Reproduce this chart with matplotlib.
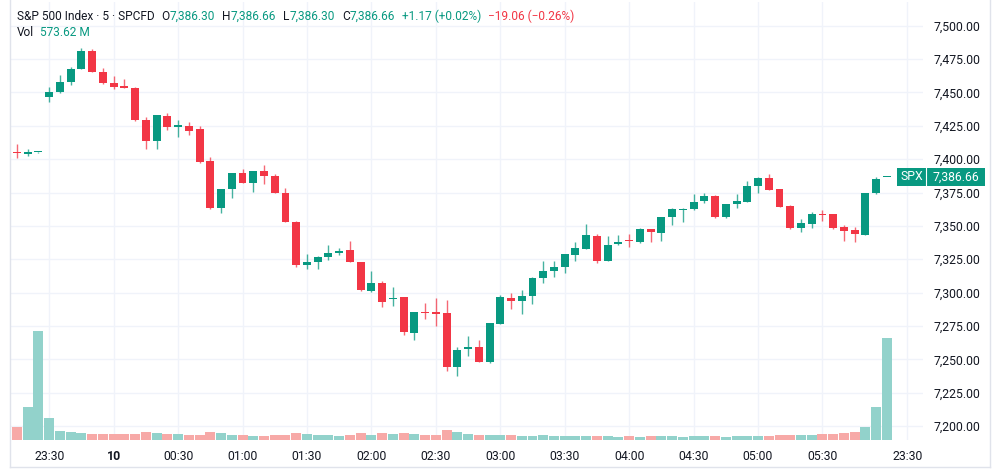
import matplotlib.pyplot as plt
from matplotlib.patches import Rectangle
from matplotlib.lines import Line2D
import matplotlib.transforms as mtransforms

plt.rcParams['font.family'] = ['Roboto', 'DejaVu Sans']

# 5-minute candles, 23:15 .. 06:00
opens = [7405.5, 7403.6, 7405.2, 7446.3, 7450.5, 7457.6, 7467.5, 7481.3, 7465.5, 7457.3,
         7455.0, 7453.6, 7429.1, 7413.4, 7432.6, 7424.3, 7424.8, 7422.3, 7398.9, 7363.7,
         7377.4, 7389.8, 7381.9, 7391.1, 7387.4, 7374.4, 7353.1, 7320.7, 7323.1, 7326.7,
         7329.7, 7331.9, 7323.1, 7301.2, 7307.0, 7295.3, 7296.7, 7270.0, 7285.6, 7285.2,
         7284.5, 7244.0, 7257.5, 7259.4, 7247.7, 7276.2, 7296.1, 7293.9, 7297.5, 7311.3,
         7316.2, 7319.2, 7328.2, 7332.8, 7342.3, 7323.6, 7336.4, 7339.0, 7337.6, 7347.6,
         7344.4, 7356.4, 7362.0, 7362.4, 7368.4, 7372.4, 7356.4, 7366.4, 7368.1, 7380.1,
         7385.6, 7377.4, 7365.2, 7348.4, 7351.4, 7358.4, 7358.7, 7348.8, 7346.7, 7343.1,
         7374.4, 7386.30]
highs = [7411.3, 7407.6, 7405.6, 7453.8, 7463.0, 7468.8, 7483.0, 7482.3, 7468.0, 7462.5,
         7459.8, 7453.9, 7431.4, 7432.9, 7434.8, 7429.3, 7427.8, 7424.6, 7401.8, 7377.4,
         7389.8, 7392.4, 7391.1, 7395.9, 7388.9, 7378.1, 7353.3, 7328.7, 7327.5, 7335.6,
         7333.2, 7338.9, 7323.3, 7316.2, 7308.6, 7304.3, 7297.0, 7285.2, 7292.0, 7295.8,
         7294.4, 7259.4, 7267.4, 7264.5, 7277.0, 7298.2, 7300.0, 7302.0, 7311.6, 7324.0,
         7323.8, 7328.7, 7337.9, 7351.4, 7343.9, 7342.3, 7343.1, 7343.9, 7348.2, 7348.0,
         7356.9, 7363.1, 7363.1, 7373.7, 7374.4, 7372.8, 7366.6, 7373.7, 7383.9, 7386.4,
         7388.9, 7377.8, 7365.6, 7355.0, 7360.7, 7361.9, 7359.0, 7350.6, 7349.4, 7374.6,
         7386.8, 7386.66]
lows = [7401.1, 7402.3, 7405.0, 7443.0, 7449.3, 7455.6, 7467.5, 7465.3, 7456.3, 7452.3,
        7453.0, 7428.8, 7407.4, 7407.8, 7421.8, 7416.8, 7418.0, 7397.3, 7363.0, 7360.0,
        7371.1, 7382.1, 7375.1, 7381.1, 7374.3, 7352.9, 7319.4, 7317.4, 7317.6, 7324.4,
        7328.0, 7322.9, 7301.4, 7300.5, 7289.0, 7289.6, 7268.2, 7264.5, 7280.2, 7274.9,
        7240.9, 7237.5, 7252.5, 7247.7, 7247.0, 7276.2, 7287.5, 7284.0, 7291.5, 7307.4,
        7311.5, 7314.4, 7323.4, 7332.4, 7322.4, 7323.6, 7335.6, 7334.0, 7337.0, 7338.2,
        7338.9, 7350.6, 7352.7, 7362.0, 7366.9, 7356.0, 7356.0, 7363.6, 7368.1, 7374.4,
        7376.9, 7364.0, 7348.0, 7345.1, 7348.2, 7354.0, 7348.0, 7338.6, 7338.0, 7342.8,
        7374.0, 7386.30]
closes = [7404.5, 7405.6, 7405.4, 7450.3, 7457.6, 7467.8, 7481.3, 7465.3, 7456.8, 7453.8,
          7453.3, 7429.1, 7413.4, 7432.9, 7424.3, 7425.3, 7421.3, 7398.0, 7363.2, 7377.4,
          7389.8, 7382.1, 7391.1, 7387.6, 7374.3, 7352.9, 7320.7, 7322.9, 7326.9, 7329.7,
          7331.2, 7322.9, 7301.9, 7307.0, 7293.2, 7296.1, 7270.3, 7285.2, 7285.0, 7284.0,
          7244.0, 7256.9, 7259.5, 7247.7, 7277.0, 7296.5, 7293.9, 7297.5, 7311.3, 7316.2,
          7319.5, 7328.7, 7333.7, 7343.0, 7323.6, 7335.6, 7338.2, 7338.6, 7347.6, 7345.1,
          7356.9, 7362.4, 7363.0, 7368.2, 7372.4, 7356.4, 7366.1, 7368.9, 7380.1, 7385.6,
          7376.9, 7364.4, 7348.4, 7352.0, 7358.7, 7358.0, 7348.2, 7346.3, 7343.9, 7374.4,
          7385.49, 7386.66]
# volume in millions
volumes = [71, 187, 611, 124, 51, 43, 39, 36, 36, 36,
           36, 36, 47, 37, 34, 34, 28, 28, 47, 37,
           28, 30, 24, 24, 28, 30, 41, 36, 30, 28,
           21, 28, 41, 30, 39, 34, 41, 36, 26, 30,
           58, 43, 36, 30, 30, 28, 28, 24, 24, 30,
           21, 21, 21, 24, 24, 21, 17, 24, 17, 21,
           21, 21, 17, 24, 21, 21, 17, 21, 24, 24,
           24, 28, 30, 30, 28, 34, 34, 39, 43, 75,
           187, 574]

time_ticks = [3, 9, 15, 21, 27, 33, 39, 45, 51, 57, 63, 69, 75, 82.9]
time_labels = ['23:30', '10', '00:30', '01:00', '01:30', '02:00', '02:30',
               '03:00', '03:30', '04:00', '04:30', '05:00', '05:30', '23:30']
price_ticks = list(range(7200, 7501, 25))

GREEN = '#089981'
RED = '#F23645'
VGREEN = '#92D2CB'
VRED = '#F7A9A7'
TEXT = '#131722'
GRID = '#F0F3FA'

PMIN, PMAX = 7189.5, 7517.8
VMAX = 2463

fig = plt.figure(figsize=(10, 4.7), dpi=100)
rect = [0.010, 0.0638, 0.913, 0.9319]
axv = fig.add_axes(rect)
ax = fig.add_axes(rect, sharex=axv)
ax.patch.set_visible(False)

idx = list(range(len(opens)))
up = [c >= o for o, c in zip(opens, closes)]

# volume pane (background) + grid
axv.bar(idx, volumes, width=0.93, color=[VGREEN if u else VRED for u in up], linewidth=0)
axv.set_ylim(0, VMAX)
axv.set_yticks([(p - PMIN) / (PMAX - PMIN) * VMAX for p in price_ticks])
axv.grid(True, color=GRID, linewidth=1)
axv.set_axisbelow(True)
axv.tick_params(labelleft=False, labelbottom=False, length=0)
for s in axv.spines.values():
    s.set_visible(False)

# candles
colors = [GREEN if u else RED for u in up]
ax.vlines(idx, lows, highs, colors=colors, linewidth=1.0, alpha=0.75)
bottoms = [min(o, c) for o, c in zip(opens, closes)]
heights = [max(abs(c - o), 0.8) for o, c in zip(opens, closes)]
ax.bar(idx, heights, bottom=bottoms, width=0.74, color=colors, linewidth=0)

ax.set_xlim(-0.65, 84.36)
ax.set_ylim(PMIN, PMAX)
ax.yaxis.tick_right()
ax.set_yticks(price_ticks, [f'{p:,.2f}' for p in price_ticks])
ax.set_xticks(time_ticks, time_labels)
ax.tick_params(axis='y', length=0, pad=7.5, labelsize=8.8, labelcolor=TEXT)
ax.tick_params(axis='x', length=0, pad=7, labelsize=8.8, labelcolor=TEXT)
ax.get_xticklabels()[1].set_fontweight('bold')
for s in ax.spines.values():
    s.set_visible(False)

# last price label
last = closes[-1]
tr = mtransforms.blended_transform_factory(ax.transAxes, ax.transData)
box_h = 12.8
ax.add_patch(Rectangle((0.9715, last - box_h / 2), 1.0679 - 0.9715, box_h, transform=tr,
                       facecolor=GREEN, edgecolor='none', clip_on=False, zorder=5))
ax.add_line(Line2D([1.0033, 1.0033], [last - box_h / 2, last + box_h / 2], transform=tr,
                   color='white', linewidth=0.8, clip_on=False, zorder=6))
ax.text(0.9874, last, 'SPX', transform=tr, color='white', fontsize=8.8,
        ha='center', va='center', zorder=7, clip_on=False)
ax.text(1.0356, last, f'{last:,.2f}', transform=tr, color='white', fontsize=8.8,
        ha='center', va='center', zorder=7, clip_on=False)

# header legend: segments chained left to right (text, colour, gap after in px)
y1 = 1 - 16 / 470
y2 = 1 - 33 / 470
renderer = fig.canvas.get_renderer()


def chain(parts, x0, y):
    x = x0
    for txt, col, gap in parts:
        t = fig.text(x / 1000, y, txt, color=col, fontsize=8.6, ha='left', va='center')
        w = t.get_window_extent(renderer).width
        x += w + gap


chain([('S&P 500 Index · 5 · SPCFD', TEXT, 7), ('O', TEXT, 0), ('7,386.30', GREEN, 7),
       ('H', TEXT, 0), ('7,386.66', GREEN, 7), ('L', TEXT, 0), ('7,386.30', GREEN, 7),
       ('C', TEXT, 0), ('7,386.66', GREEN, 7), ('+1.17 (+0.02%)', GREEN, 7),
       ('\u221219.06 (\u22120.26%)', RED, 0)], 17, y1)
chain([('Vol', TEXT, 6), ('573.62 M', GREEN, 0)], 17, y2)

# widget border
bc = '#E0E3EB'
fig.add_artist(Line2D([10 / 1000, 10 / 1000], [1, 3 / 470], color=bc, lw=1))
fig.add_artist(Line2D([10 / 1000, 990 / 1000], [3 / 470, 3 / 470], color=bc, lw=1))
fig.add_artist(Line2D([990 / 1000, 990 / 1000], [1, 3 / 470], color=bc, lw=1))

fig.savefig('out.png', dpi=100)
